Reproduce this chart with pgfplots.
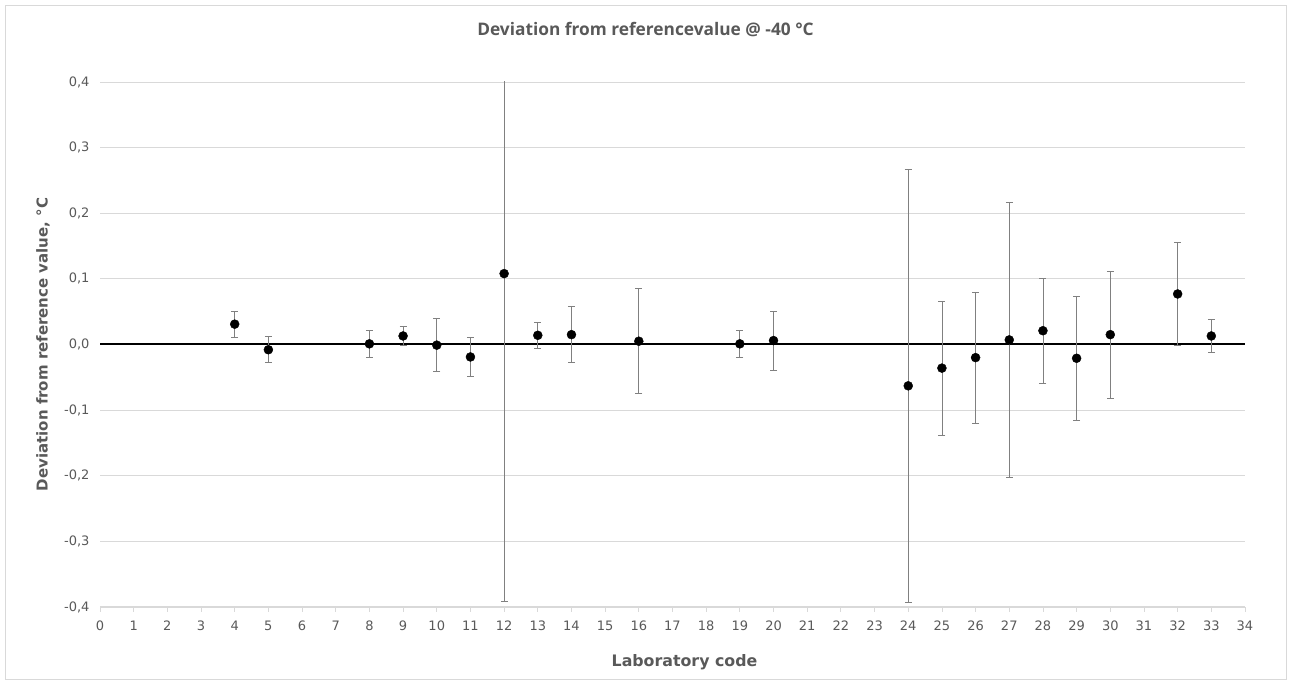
\documentclass[border=0pt]{standalone}
\usepackage{pgfplots}
\pgfplotsset{compat=1.18}
\usepackage{pgfplotstable}
\usepackage{fontspec}
\setmainfont{DejaVu Sans}
\newfontfamily\titlefont{Open Sans}
\definecolor{txtgray}{HTML}{595959}
\definecolor{gridgray}{HTML}{D9D9D9}
\definecolor{bargray}{HTML}{808080}

\pgfplotstableread{
lab dev err
4 0.031 0.020
5 -0.008 0.020
8 0.001 0.020
9 0.013 0.015
10 -0.001 0.040
11 -0.019 0.030
12 0.108 0.500
13 0.014 0.020
14 0.015 0.043
16 0.005 0.080
19 0.001 0.020
20 0.006 0.045
24 -0.063 0.330
25 -0.036 0.102
26 -0.020 0.100
27 0.007 0.210
28 0.021 0.080
29 -0.021 0.094
30 0.015 0.097
32 0.077 0.079
33 0.013 0.025
}\devtable

\begin{document}
\begin{tikzpicture}
\path[use as bounding box] (0,0) rectangle (1291pt,684pt);
\draw[gridgray] (5pt,5pt) rectangle (1286pt,679pt);
\begin{axis}[
    at={(100pt,77pt)}, anchor=south west,
    scale only axis, width=1145pt, height=525pt,
    xmin=0, xmax=34, ymin=-0.4, ymax=0.4,
    xtick={0,1,...,34}, ytick={-0.4,-0.3,...,0.41},
    axis x line*=bottom, axis y line*=left,
    x axis line style={gridgray, line width=1pt},
    y axis line style={draw=none},
    tick align=outside,
    xtick style={gridgray, line width=0.8pt},
    major tick length=5pt,
    ytick style={draw=none},
    ymajorgrids, grid style={gridgray, line width=0.8pt},
    tick label style={font=\fontsize{13}{15}\selectfont, text=txtgray},
    /pgf/number format/.cd, assume math mode=true, fixed, fixed zerofill, precision=1, use comma,
    /pgfplots/.cd,
    xticklabel={\pgfmathprintnumber[fixed, precision=0]{\tick}},
    yticklabel style={xshift=-2pt},
    xticklabel style={yshift=-5pt},
    title={Deviation from referencevalue @ -40 °C},
    title style={font=\titlefont\bfseries\fontsize{17.3}{19}\selectfont, text=txtgray,
        at={([xshift=-27pt, yshift=46pt]axis description cs:0.5,1)}, anchor=center},
    xlabel={Laboratory code},
    xlabel style={font=\bfseries\fontsize{15.8}{18}\selectfont, text=txtgray,
        at={([xshift=12pt, yshift=-55pt]axis description cs:0.5,0)}, anchor=center},
    ylabel={Deviation from reference value, °C},
    ylabel style={font=\bfseries\fontsize{15}{17}\selectfont, text=txtgray,
        at={([xshift=-57pt]axis description cs:0,0.5)}, anchor=center},
]
\addplot[black, line width=2pt, no marks] coordinates {(0,0) (34,0)};
\addplot[only marks, mark=*, mark size=4.5pt, black,
    error bars/.cd, y dir=both, y explicit,
    error bar style={bargray, line width=0.8pt},
    error mark options={bargray, mark size=3.5pt, line width=0.8pt, rotate=90}]
    table[x=lab, y=dev, y error=err] {\devtable};
\end{axis}
\end{tikzpicture}
\end{document}
